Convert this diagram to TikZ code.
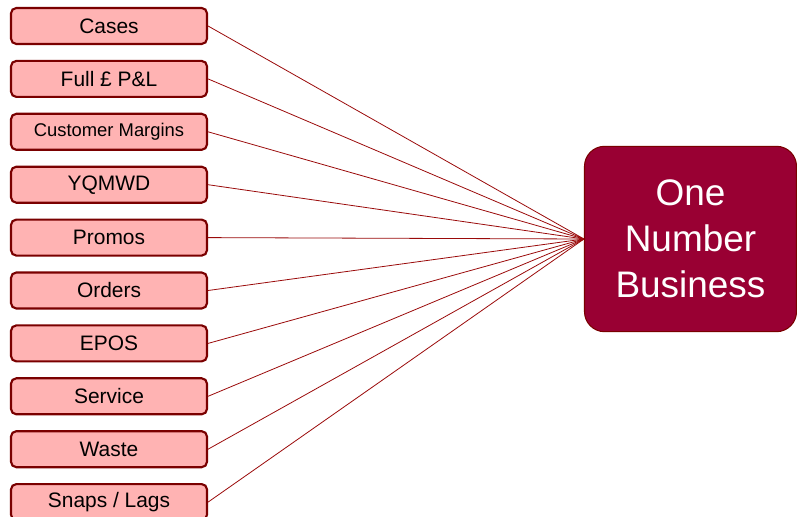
\documentclass[tikz,border=0pt]{standalone}
\usepackage{fontspec}
\setmainfont{Liberation Sans}

\definecolor{pinkfill}{HTML}{FFB3B3}
\definecolor{darkrim}{HTML}{7A0000}
\definecolor{wine}{HTML}{990033}
\definecolor{linkred}{HTML}{9A0A0A}

\tikzset{
    source/.style={draw=darkrim, line width=1.6pt, fill=pinkfill, rounded corners=4pt,
        minimum width=147pt, minimum height=27pt, inner sep=0pt, font=\fontsize{15.7}{18}\selectfont},
    target/.style={draw=darkrim, line width=0.8pt, fill=wine, rounded corners=15pt, text=white,
        minimum width=159pt, minimum height=139pt, inner sep=0pt, align=center,
        font=\fontsize{27.7}{34.5}\selectfont},
    link/.style={linkred, line width=0.6pt}
}

\begin{document}
\begin{tikzpicture}[x=0.75pt, y=-0.75pt]

    % Fix the page size
    \useasboundingbox (0,0) rectangle (797,517);

    % The ten input boxes on the left
    \node[source] (cases)   at (109,26)    {Cases};
    \node[source] (pnl)     at (109,78.9)  {Full £ P\&L};
    \node[source, font=\fontsize{13.8}{16}\selectfont] (margins) at (109,131.8) {Customer Margins};
    \node[source] (yqmwd)   at (109,184.7) {YQMWD};
    \node[source] (promos)  at (109,237.6) {Promos};
    \node[source] (orders)  at (109,290.5) {Orders};
    \node[source] (epos)    at (109,343.4) {EPOS};
    \node[source] (service) at (109,396.3) {Service};
    \node[source] (waste)   at (109,449.2) {Waste};
    \node[source] (snaps)   at (109,502.1) {Snaps / Lags};

    % The box they all feed into
    \node[target] (onb) at (690.5,239) {One\\Number\\Business};

    % Lines from every input to the big box
    \foreach \src in {cases,pnl,margins,yqmwd,promos,orders,epos,service,waste,snaps}
        \draw[link] (\src.east) -- (onb.west);

\end{tikzpicture}
\end{document}
